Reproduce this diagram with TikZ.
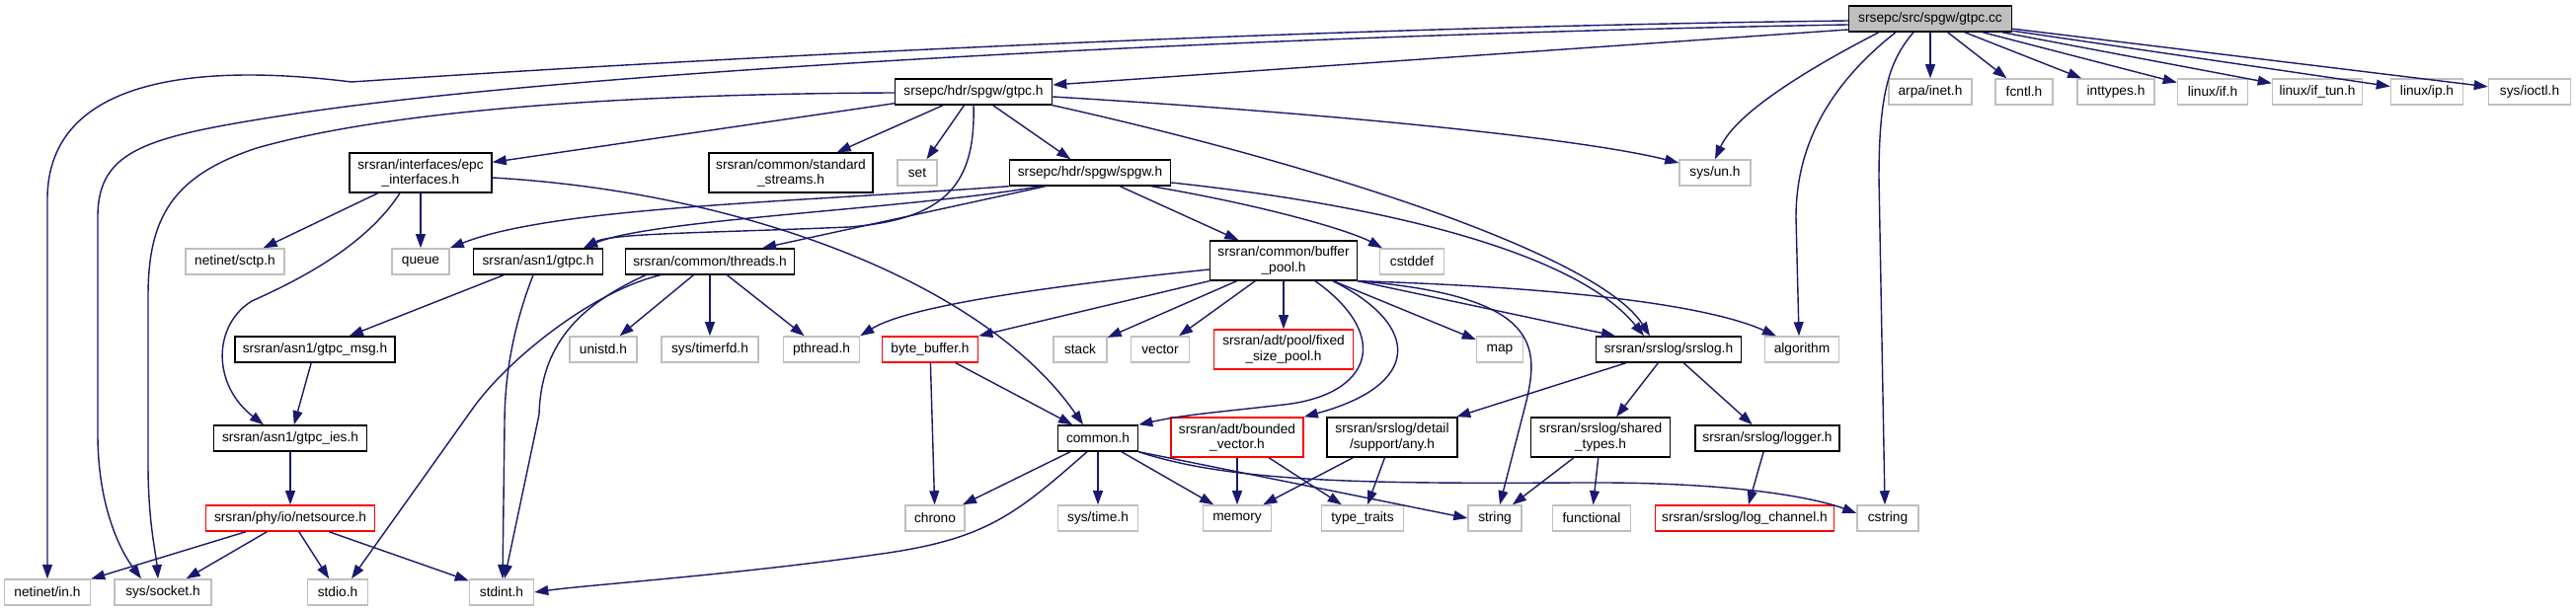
\documentclass[tikz,border=0pt]{standalone}
\usepackage{fontspec}
\setmainfont{Liberation Sans}
\usetikzlibrary{arrows.meta}
\definecolor{dxEdge}{RGB}{25,25,112}
\definecolor{dxGray}{RGB}{191,191,191}
\definecolor{dxRed}{RGB}{255,0,0}

\begin{document}
\begin{tikzpicture}[x=0.01cm, y=-0.01cm,
  box/.style={draw, inner sep=0pt, minimum height=0.26cm, align=center,
    font=\fontsize{3.9}{4.3}\selectfont, line width=0.4pt},
  doc/.style={box, draw=black},
  ext/.style={box, draw=dxGray},
  trunc/.style={box, draw=dxRed},
  root/.style={box, draw=black, fill=dxGray},
  tall/.style={minimum height=0.40cm},
  dep/.style={dxEdge, line width=0.4pt, -{Triangle[length=4pt,width=2.8pt]}}]
  \useasboundingbox (0,0) rectangle (2609,619);

  % Root file and its system headers
  \node[root, minimum width=1.65cm] (cc) at (1955,19) {srsepc/src/spgw/gtpc.cc};
  \node[ext, minimum width=0.84cm] (inet) at (1955,93) {arpa/inet.h};
  \node[ext, minimum width=0.58cm] (fcntl) at (2050,93) {fcntl.h};
  \node[ext, minimum width=0.78cm] (inttypes) at (2143,93) {inttypes.h};
  \node[ext, minimum width=0.71cm] (lif) at (2241,93) {linux/if.h};
  \node[ext, minimum width=0.91cm] (iftun) at (2347,93) {linux/if\_tun.h};
  \node[ext, minimum width=0.73cm] (lip) at (2458,93) {linux/ip.h};
  \node[ext, minimum width=0.83cm] (ioctl) at (2562,93) {sys/ioctl.h};
  \node[doc, minimum width=1.59cm] (gtpch) at (986,93) {srsepc/hdr/spgw/gtpc.h};

  % Second row
  \node[doc, tall, minimum width=1.44cm] (epc) at (426,175) {srsran/interfaces/epc\\\_interfaces.h};
  \node[doc, tall, minimum width=1.66cm] (stdstr) at (801,175) {srsran/common/standard\\\_streams.h};
  \node[ext, minimum width=0.40cm] (set) at (929,175) {set};
  \node[doc, minimum width=1.63cm] (spgw) at (1104,175) {srsepc/hdr/spgw/spgw.h};
  \node[ext, minimum width=0.72cm] (sysun) at (1737,175) {sys/un.h};

  % Third row
  \node[ext, minimum width=1.00cm] (sctp) at (238,265) {netinet/sctp.h};
  \node[ext, minimum width=0.58cm] (queue) at (426,265) {queue};
  \node[doc, minimum width=1.31cm] (agtpc) at (545,265) {srsran/asn1/gtpc.h};
  \node[doc, minimum width=1.71cm] (threads) at (719,265) {srsran/common/threads.h};
  \node[doc, tall, minimum width=1.49cm] (bpool) at (1300,264) {srsran/common/buffer\\\_pool.h};
  \node[ext, minimum width=0.65cm] (cstddef) at (1430,265) {cstddef};

  % Fourth row
  \node[doc, minimum width=1.62cm] (gmsg) at (319,354) {srsran/asn1/gtpc\_msg.h};
  \node[ext, minimum width=0.68cm] (unistd) at (611,354) {unistd.h};
  \node[ext, minimum width=0.98cm] (timerfd) at (719,354) {sys/timerfd.h};
  \node[ext, minimum width=0.77cm] (pthread) at (832,354) {pthread.h};
  \node[trunc, minimum width=0.97cm] (bbuf) at (942,354) {byte\_buffer.h};
  \node[ext, minimum width=0.54cm] (stack) at (1094,354) {stack};
  \node[ext, minimum width=0.59cm] (vector) at (1175,354) {vector};
  \node[trunc, tall, minimum width=1.41cm] (fpool) at (1300,354) {srsran/adt/pool/fixed\\\_size\_pool.h};
  \node[ext, minimum width=0.47cm] (map) at (1519,354) {map};
  \node[doc, minimum width=1.47cm] (srslog) at (1690,354) {srsran/srslog/srslog.h};
  \node[ext, minimum width=0.75cm] (algo) at (1825,354) {algorithm};

  % Fifth row
  \node[doc, minimum width=1.55cm] (gies) at (294,444) {srsran/asn1/gtpc\_ies.h};
  \node[doc, minimum width=0.81cm] (common) at (1112,444) {common.h};
  \node[trunc, tall, minimum width=1.34cm] (bvec) at (1253,443) {srsran/adt/bounded\\\_vector.h};
  \node[doc, tall, minimum width=1.32cm] (any) at (1410,443) {srsran/srslog/detail\\/support/any.h};
  \node[doc, tall, minimum width=1.41cm] (shtypes) at (1621,443) {srsran/srslog/shared\\\_types.h};
  \node[doc, minimum width=1.46cm] (logger) at (1790,444) {srsran/srslog/logger.h};

  % Sixth row
  \node[trunc, minimum width=1.71cm] (netsrc) at (294,525) {srsran/phy/io/netsource.h};
  \node[ext, minimum width=0.60cm] (chrono) at (947,525) {chrono};
  \node[ext, minimum width=0.81cm] (systime) at (1112,525) {sys/time.h};
  \node[ext, minimum width=0.69cm] (memory) at (1253,525) {memory};
  \node[ext, minimum width=0.83cm] (ttraits) at (1380,525) {type\_traits};
  \node[ext, minimum width=0.54cm] (string) at (1514,525) {string};
  \node[ext, minimum width=0.79cm] (functional) at (1612,525) {functional};
  \node[trunc, minimum width=1.81cm] (logch) at (1767,525) {srsran/srslog/log\_channel.h};
  \node[ext, minimum width=0.62cm] (cstring) at (1912,525) {cstring};

  % Bottom row
  \node[ext, minimum width=0.87cm] (netin) at (48,600) {netinet/in.h};
  \node[ext, minimum width=0.98cm] (socket) at (165,600) {sys/socket.h};
  \node[ext, minimum width=0.61cm] (stdio) at (342,600) {stdio.h};
  \node[ext, minimum width=0.65cm] (stdint) at (508,600) {stdint.h};

  % gtpc.cc includes
  \draw[dep] ([yshift=-0.11cm]cc.west) -- ([yshift=0.07cm]gtpch.east);
  \draw[dep] ([yshift=-0.02cm]cc.west) .. controls (1300,28) and (700,60) .. (356,83)
    .. controls (250,70) and (50,60) .. (48,200) -- (netin.north);
  \draw[dep] ([yshift=-0.06cm]cc.west) .. controls (1300,35) and (600,70) .. (300,115)
    .. controls (150,138) and (99,150) .. (99,220) -- (99,440)
    .. controls (99,510) and (120,555) .. ([xshift=-0.22cm]socket.north);
  \draw[dep] ([xshift=-0.52cm]cc.south) .. controls (1850,60) and (1760,110) .. (sysun.north);
  \draw[dep] ([xshift=-0.35cm]cc.south) .. controls (1860,80) and (1819,140) .. (1819,220)
    -- ([xshift=-0.03cm]algo.north);
  \draw[dep] ([xshift=-0.17cm]cc.south) .. controls (1915,60) and (1903,90) .. (1903,180)
    -- ([xshift=-0.03cm]cstring.north);
  \draw[dep] (cc) -- (inet);
  \draw[dep] (cc) -- (fcntl);
  \draw[dep] (cc) -- (inttypes);
  \draw[dep] (cc) -- (lif);
  \draw[dep] (cc) -- (iftun);
  \draw[dep] (cc) -- (lip);
  \draw[dep] (cc) -- (ioctl);

  % gtpc.h includes
  \draw[dep] ([yshift=-0.01cm]gtpch.west) .. controls (650,95) and (400,110) .. (260,150)
    .. controls (175,178) and (150,220) .. (150,300) -- (150,470)
    .. controls (150,530) and (158,560) .. ([xshift=-0.05cm]socket.north);
  \draw[dep] (gtpch) -- (epc);
  \draw[dep] (gtpch) -- (stdstr);
  \draw[dep] (gtpch) -- (set);
  \draw[dep] (gtpch) -- (spgw);
  \draw[dep] (gtpch.south) .. controls (988,185) and (960,222) .. (860,230)
    .. controls (720,236) and (620,236) .. ([xshift=0.46cm]agtpc.north);
  \draw[dep] (gtpch.south east) .. controls (1350,170) and (1620,260) .. ([xshift=-0.19cm]srslog.north);
  \draw[dep] ([yshift=-0.05cm]gtpch.east) .. controls (1350,115) and (1600,140) .. ([yshift=0.1cm]sysun.west);

  % epc_interfaces.h includes
  \draw[dep] (epc) -- (sctp);
  \draw[dep] (epc) -- (queue);
  \draw[dep] ([xshift=-0.21cm]epc.south) .. controls (370,250) and (300,285) .. (255,305)
    .. controls (215,330) and (215,390) .. ([xshift=-0.27cm]gies.north);
  \draw[dep] ([yshift=-0.05cm]epc.east) .. controls (760,195) and (1000,290) .. ([xshift=-0.15cm]common.north);

  % spgw.h includes
  \draw[dep] (spgw.south west) .. controls (800,205) and (560,210) .. (queue.north east);
  \draw[dep] ([xshift=-0.5cm]spgw.south) .. controls (920,212) and (660,222) .. ([xshift=0.46cm]agtpc.north);
  \draw[dep] ([xshift=-0.45cm]spgw.south) -- ([xshift=0.53cm]threads.north);
  \draw[dep] (spgw) -- (bpool);
  \draw[dep] ([xshift=0.62cm]spgw.south) .. controls (1290,210) and (1370,235) .. ([xshift=-0.3cm]cstddef.north);
  \draw[dep] ([yshift=-0.1cm]spgw.east) .. controls (1420,210) and (1600,260) .. ([xshift=-0.25cm]srslog.north);

  % asn1 and threads
  \draw[dep] (agtpc) -- (gmsg);
  \draw[dep] ([xshift=-0.05cm]agtpc.south) .. controls (520,330) and (511,380) .. (511,430)
    -- ([xshift=0.01cm]stdint.north);
  \draw[dep] (threads) -- (unistd);
  \draw[dep] (threads) -- (timerfd);
  \draw[dep] (threads) -- (pthread);
  \draw[dep] ([xshift=-0.5cm]threads.south) .. controls (600,295) and (513,365) .. (478,415)
    -- ([xshift=0.14cm]stdio.north);
  \draw[dep] ([xshift=-0.65cm]threads.south) .. controls (585,310) and (548,350) .. (546,420)
    -- ([xshift=0.03cm]stdint.north);
  \draw[dep] (gmsg) -- (gies);
  \draw[dep] (gies) -- (netsrc);
  \draw[dep] (netsrc) -- (netin);
  \draw[dep] (netsrc) -- (socket);
  \draw[dep] (netsrc) -- (stdio);
  \draw[dep] (netsrc) -- (stdint);

  % buffer_pool.h includes
  \draw[dep] ([yshift=-0.09cm]bpool.west) .. controls (1060,290) and (920,310) .. (pthread.north east);
  \draw[dep] (bpool.south west) -- (bbuf.north east);
  \draw[dep] (bpool) -- (stack);
  \draw[dep] (bpool) -- (vector);
  \draw[dep] (bpool) -- (fpool);
  \draw[dep] ([xshift=0.32cm]bpool.south) .. controls (1410,340) and (1390,400) .. (1300,410)
    .. controls (1230,418) and (1200,420) .. (common.north east);
  \draw[dep] ([xshift=0.5cm]bpool.south) .. controls (1440,330) and (1440,390) .. (bvec.north east);
  \draw[dep] (bpool) -- (map);
  \draw[dep] (bpool.south east) .. controls (1560,300) and (1560,350) .. (1545,410)
    -- ([xshift=0.05cm]string.north);
  \draw[dep] (bpool.south east) -- ([xshift=-0.54cm]srslog.north);
  \draw[dep] (bpool.south east) .. controls (1550,290) and (1720,305) .. ([xshift=-0.26cm]algo.north);

  % lower headers
  \draw[dep] (bbuf) -- (chrono);
  \draw[dep] (bbuf) -- (common);
  \draw[dep] (common) -- (chrono);
  \draw[dep] (common) -- (systime);
  \draw[dep] (common) -- (memory);
  \draw[dep] (common.south east) -- (string.west);
  \draw[dep] (common.south east) .. controls (1250,490) and (1400,490) .. (1600,489)
    .. controls (1760,488) and (1840,505) .. ([yshift=0.05cm]cstring.west);
  \draw[dep] ([xshift=-0.11cm]common.south) .. controls (1030,520) and (1000,545) .. (900,560)
    .. controls (750,582) and (600,592) .. (stdint.east);
  \draw[dep] (bvec) -- (memory);
  \draw[dep] (bvec) -- (ttraits);
  \draw[dep] (any) -- (memory);
  \draw[dep] (any) -- (ttraits);
  \draw[dep] (shtypes) -- (string);
  \draw[dep] (shtypes) -- (functional);
  \draw[dep] (srslog) -- (any);
  \draw[dep] (srslog) -- (shtypes);
  \draw[dep] (srslog) -- (logger);
  \draw[dep] (logger) -- (logch);
\end{tikzpicture}
\end{document}
